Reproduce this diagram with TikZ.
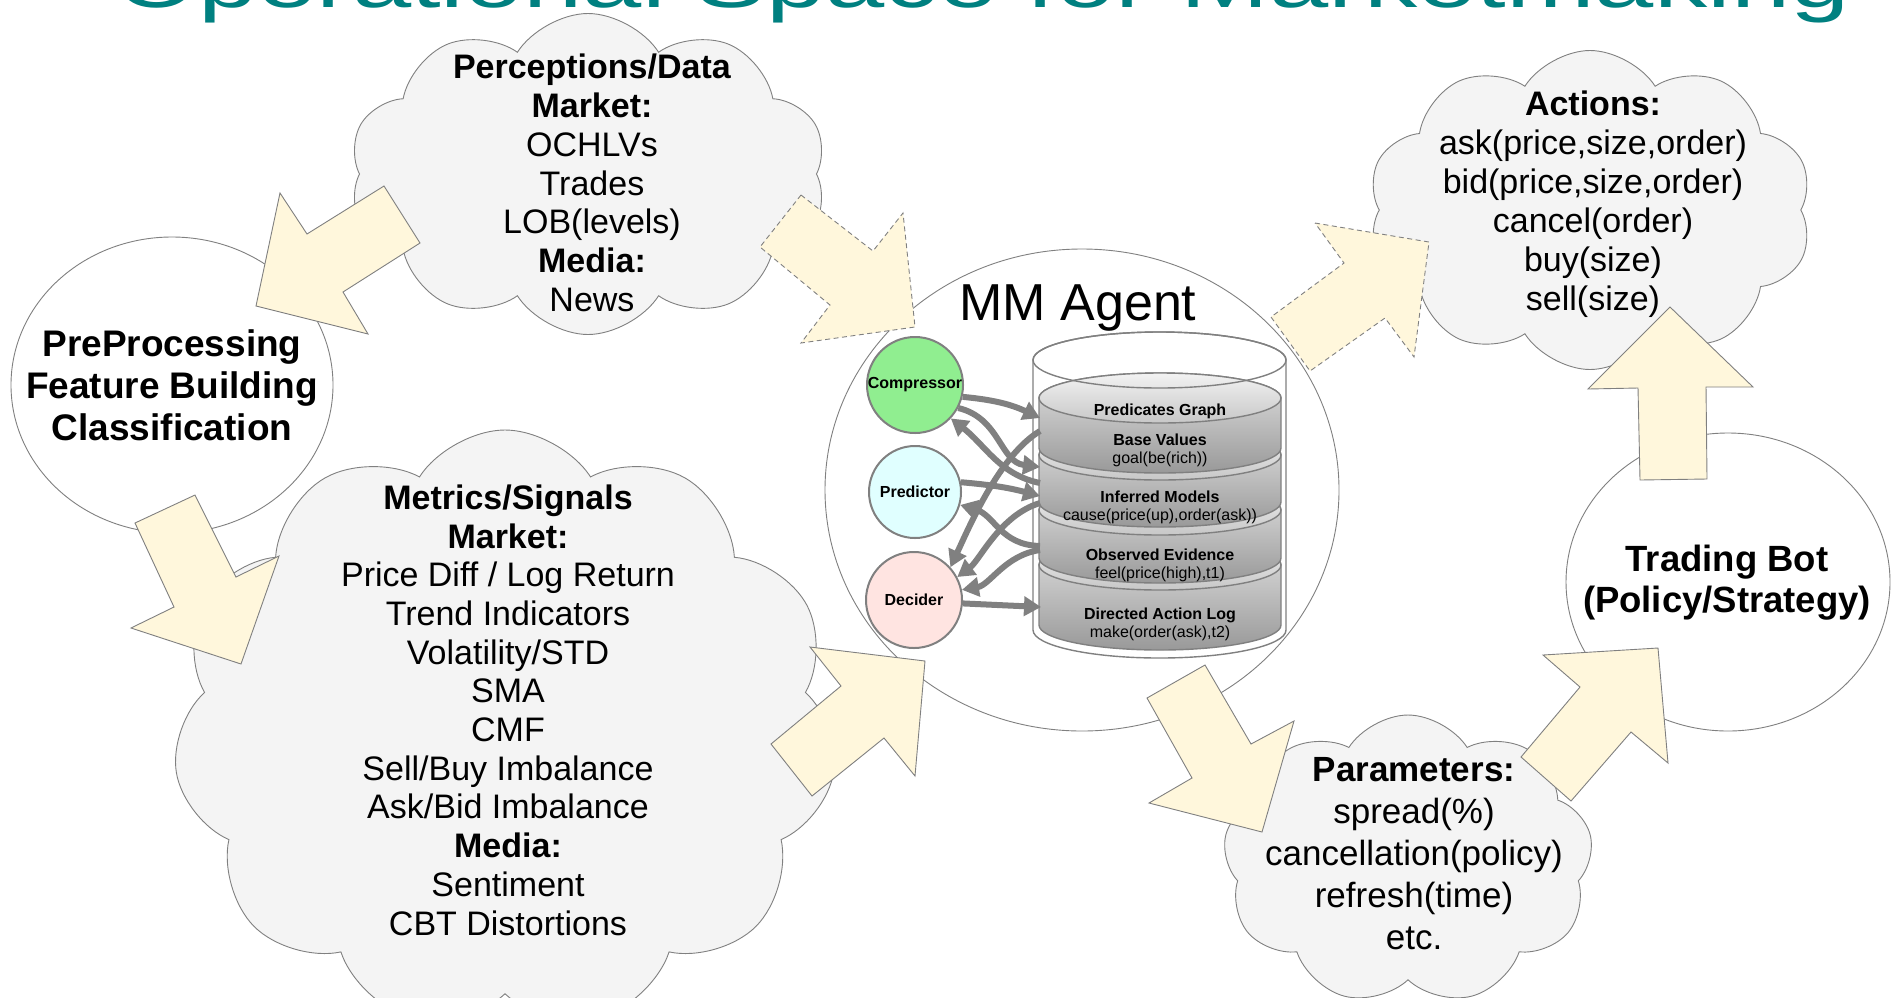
\documentclass[tikz,border=0pt]{standalone}
\usepackage{fontspec}
\setmainfont{Liberation Sans}
\usetikzlibrary{shapes.symbols,shapes.geometric,arrows.meta}
\definecolor{cloudfill}{HTML}{F4F4F4}
\definecolor{linegray}{HTML}{808080}
\definecolor{arrowfill}{HTML}{FFF7DC}
\definecolor{titleteal}{HTML}{008080}
\definecolor{compgreen}{HTML}{90EE90}
\definecolor{predcyan}{HTML}{E0FFFF}
\definecolor{decrose}{HTML}{FFE4E1}
\newcommand{\mmlayer}[2]{%
 \path[draw=linegray, line width=1.4pt, top color=black!12, bottom color=black!40] (1039,#1) -- (1039,#2) arc[start angle=180,end angle=360,x radius=121pt,y radius=25pt] -- (1281,#1) arc[start angle=0,end angle=180,x radius=121pt,y radius=25pt] -- cycle;
 \path[draw=linegray, line width=1.4pt, top color=black!5, bottom color=black!22] (1160,#1) ellipse[x radius=121pt, y radius=25pt];
}
\begin{document}
\begin{tikzpicture}[x=1pt,y=-1pt,
  cloudbox/.style={cloud, cloud puffs=#1, cloud puff arc=115, draw=linegray, fill=cloudfill, line width=0.9pt, inner sep=0pt},
  ellbox/.style={ellipse, draw=linegray, fill=white, line width=0.9pt, inner sep=0pt},
  blockarrow/.style={fill=arrowfill, draw=linegray, line width=0.9pt, line join=miter},
  dashedarrow/.style={blockarrow, dash pattern=on 5pt off 3.5pt},
  txt/.style={align=center, inner sep=0pt, text=black},
  agentbox/.style={circle, draw=linegray, line width=2pt, inner sep=0pt, minimum size=96pt, font=\fontsize{16}{18}\selectfont\bfseries},
  disclabel/.style={align=center, inner sep=0pt, font=\fontsize{16}{18}\selectfont},
  flowarrow/.style={draw=linegray, line width=6pt, -{Triangle[length=17pt,width=19pt]}}
]
\useasboundingbox (0,0) rectangle (1902,997);
\fill[white] (0,0) rectangle (1902,997);

% title (cut off at the top)
\node[anchor=base west, inner sep=0pt, font=\fontsize{75}{75}\selectfont, text=titleteal, xscale=1.42] (title) at (115,7) {Operational Space for Marketmaking};

% ellipses
\node[ellbox, minimum width=322pt, minimum height=296pt] (pre) at (172,385) {};
\node[ellbox, minimum width=514pt, minimum height=482pt] (mm) at (1082,490) {};
\node[ellbox, minimum width=324pt, minimum height=298pt] (bot) at (1728,582) {};

% clouds
\node[cloudbox=11, minimum width=664pt, minimum height=600pt] (metrics) at (505,730) {};
\node[cloudbox=10, minimum width=478pt, minimum height=321pt] (perc) at (588,174) {};
\node[cloudbox=10, minimum width=445pt, minimum height=319pt] (act) at (1590,210) {};
\node[cloudbox=9, minimum width=370pt, minimum height=290pt] (par) at (1408,860) {};

% block arrows
\draw[blockarrow] (384,186) -- (420,243) -- (343,292) -- (368,334) -- (256,306) -- (280,193) -- (307,234) -- cycle;
\draw[dashedarrow] (801,195) -- (873,251) -- (903,213) -- (915,327) -- (801,343) -- (830,305) -- (760,247) -- cycle;
\draw[blockarrow] (195,495) -- (236,577) -- (279,556) -- (241,664) -- (131,628) -- (174,607) -- (135,523) -- cycle;
\draw[blockarrow] (810,647) -- (925,661) -- (915,776) -- (884,738) -- (812,796) -- (771,744) -- (841,686) -- cycle;
\draw[dashedarrow] (1315,223) -- (1429,242) -- (1414,357) -- (1385,318) -- (1310,371) -- (1271,317) -- (1344,263) -- cycle;
\draw[blockarrow] (1205,665) -- (1251,744) -- (1294,721) -- (1262,832) -- (1149,803) -- (1192,778) -- (1147,698) -- cycle;
\draw[blockarrow] (1543,655) -- (1658,648) -- (1668,763) -- (1631,732) -- (1571,801) -- (1521,757) -- (1580,687) -- cycle;
\draw[blockarrow] (1670,307) -- (1753,387) -- (1706,387) -- (1707,479) -- (1640,480) -- (1638,388) -- (1588,389) -- cycle;

% database cylinder
\path[draw=linegray, line width=1.4pt, fill=white] (1033,360) -- (1033,630) arc[start angle=180,end angle=360,x radius=126.5pt,y radius=28pt] -- (1286,360) arc[start angle=0,end angle=180,x radius=126.5pt,y radius=28pt] -- cycle;
\mmlayer{565}{625}
\mmlayer{510}{558}
\mmlayer{455}{502}
\mmlayer{398}{448}
\draw[linegray, line width=1.4pt] (1159.5,360) ellipse[x radius=126.5pt,y radius=28pt];

\node[disclabel] (pgtext) at (1160,411) {\textbf{Predicates Graph}};
\node[disclabel] (bvtext) at (1160,450) {\textbf{Base Values}\\goal(be(rich))};
\node[disclabel] (imtext) at (1160,507) {\textbf{Inferred Models}\\cause(price(up),order(ask))};
\node[disclabel] (oetext) at (1160,565) {\textbf{Observed Evidence}\\feel(price(high),t1)};
\node[disclabel] (daltext) at (1160,624.5) {\textbf{Directed Action Log}\\make(order(ask),t2)};

% agent modules
\node[agentbox, fill=compgreen] (comp) at (915,385) {Compressor};
\node[agentbox, fill=predcyan, minimum size=92pt] (pred) at (915,492) {Predictor};
\node[agentbox, fill=decrose] (dec) at (914,600) {Decider};

\coordinate (pgL) at (1040,418);
\coordinate (bvL) at (1040,431);
\coordinate (bvL2) at (1040,467);
\coordinate (imL) at (1040,483);
\coordinate (imL2) at (1040,496);
\coordinate (imL3) at (1040,503);
\coordinate (oeL) at (1040,546);
\coordinate (oeL2) at (1040,550);
\coordinate (dalL) at (1041,607);

\draw[flowarrow] (comp.-14) to[bend left=10] (pgL);
\draw[flowarrow] (comp.-28) .. controls (1000,418) and (1000,462) .. (bvL2);
\draw[flowarrow] (imL) .. controls (1000,475) and (985,445) .. (comp.-43);
\draw[flowarrow] (bvL) .. controls (1000,455) and (970,525) .. (dec.42);
\draw[flowarrow] (pred.12) to[bend left=5] (imL2);
\draw[flowarrow] (oeL) .. controls (1000,545) and (995,515) .. (pred.-16);
\draw[flowarrow] (imL3) .. controls (1000,515) and (980,560) .. (dec.28);
\draw[flowarrow] (oeL2) .. controls (1005,555) and (990,585) .. (dec.12);
\draw[flowarrow] (dec.-4) -- (dalL);

% texts
\node[txt, font=\fontsize{52}{60}\selectfont, anchor=base] (mmtext) at (1078,320) {MM Agent};
\node[txt, font=\fontsize{34}{38.8}\selectfont] (perctext) at (592,183) {\textbf{Perceptions/Data}\\\textbf{Market:}\\OCHLVs\\Trades\\LOB(levels)\\\textbf{Media:}\\News};
\node[txt, font=\fontsize{37}{42}\selectfont\bfseries] (pretext) at (172,385) {PreProcessing\\Feature Building\\Classification};
\node[txt, font=\fontsize{34}{38.7}\selectfont] (mettext) at (508,710) {\textbf{Metrics/Signals}\\\textbf{Market:}\\Price Diff / Log Return\\Trend Indicators\\Volatility/STD\\SMA\\CMF\\Sell/Buy Imbalance\\Ask/Bid Imbalance\\\textbf{Media:}\\Sentiment\\CBT Distortions};
\node[txt, font=\fontsize{34}{39}\selectfont] (acttext) at (1593,204.5) {\textbf{Actions:}\\ask(price,size,order)\\bid(price,size,order)\\cancel(order)\\buy(size)\\sell(size)};
\node[txt, font=\fontsize{35}{42}\selectfont] (partext) at (1414,854) {\textbf{Parameters:}\\spread(\%)\\cancellation(policy)\\refresh(time)\\etc.};
\node[txt, font=\fontsize{36.5}{41}\selectfont\bfseries] (bottext) at (1727,582.5) {Trading Bot\\(Policy/Strategy)};
\end{tikzpicture}
\end{document}
